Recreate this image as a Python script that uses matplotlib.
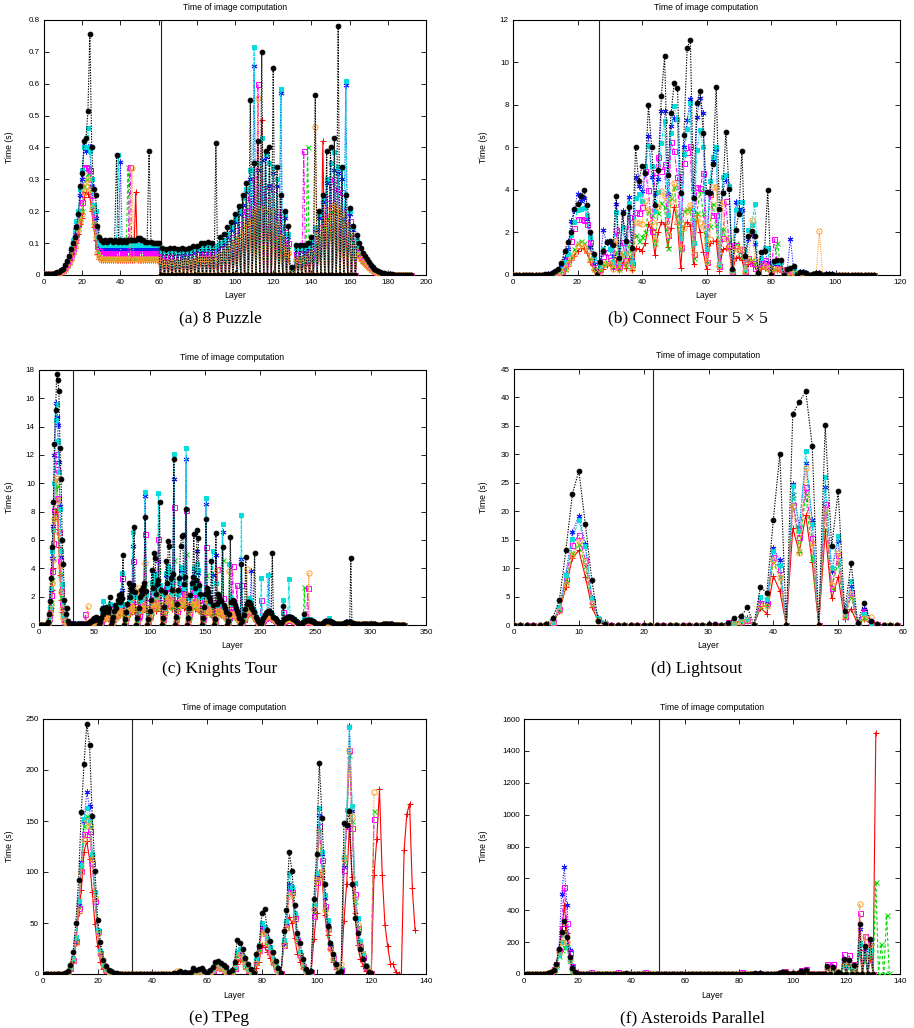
import numpy as np
import matplotlib.pyplot as plt
from matplotlib.ticker import FuncFormatter

# ---------------- (a) 8 Puzzle : layers 0..192 ----------------
puzzle_black = [
    .002, .002, .002, .003, .003, .004, .005, .008, .01, .015,
    .02, .03, .045, .06, .08, .1, .12, .15, .19, .28,
    .32, .42, .43, .515, .755, .40, .27, .25, .155, .12,
    .11, .105, .11, .105, .11, .11, .105, .11, .375, .105,
    .11, .105, .11, .105, .11, .11, .11, .11, .11, .115,
    .115, .11, .11, .105, .105, .39, .105, .1, .1, .1,
    .1,
    0, .085, 0, .08, 0, .085, 0, .085, 0, .08, 0, .085, 0, .08, 0, .085, 0, .09, 0, .09,
    0, .1, 0, .1, 0, .105, 0, .1, 0, .415, 0, .12, 0, .13, 0, .15, 0, .165, 0, .19,
    0, .215, 0, .25, 0, .29, 0, .55, 0, .35, 0, .42, 0, .70, 0, .39, 0, .40, 0, .65,
    0, .34, 0, .25, 0, .20, 0, .155, 0, .025, 0, .095, 0, .095, 0, .095, 0, .1, 0, .12,
    0, .565, 0, .2, 0, .25, 0, .39, 0, .40, 0, .43, 0, .78, 0, .34, 0, .25, 0, .21,
    0, .155, 0, .125,
    .1, .085, .07, .06, .05, .04, .032, .025, .02, .015, .012, .009, .007, .005,
    .004, .003, .002, .002, .001, .001, .001, 0, 0, 0, 0, 0, 0, 0,
]
puzzle_cyan = [
    .002, .002, .002, .003, .003, .004, .005, .008, .01, .015,
    .02, .03, .045, .06, .085, .11, .14, .17, .2, .27,
    .33, .40, .40, .46, .39, .3, .22, .2, .12, .1,
] + [.095] * 9 + [.375] + [.095] * 21 + [
    0, .075, 0, .075, 0, .075, 0, .075, 0, .075, 0, .075, 0, .075, 0, .075, 0, .08, 0, .085,
    0, .085, 0, .085, 0, .09, 0, .09, 0, .09, 0, .1, 0, .11, 0, .13, 0, .15, 0, .175,
    0, .2, 0, .24, 0, .27, 0, .33, 0, .715, 0, .35, 0, .43, 0, .38, 0, .35, 0, .34,
    0, .30, 0, .585, 0, .19, 0, .13, 0, .02, 0, .085, 0, .085, 0, .085, 0, .09, 0, .11,
    0, .15, 0, .19, 0, .24, 0, .3, 0, .35, 0, .385, 0, .34, 0, .335, 0, .61, 0, .2,
    0, .15, 0, .11,
    .09, .075, .065, .055, .045, .036, .028, .022, .017, .013, .01, .008, .006, .005,
    .004, .003, .002, .002, .001, .001, .001, 0, 0, 0, 0, 0, 0, 0,
]
puzzle_blue = [
    .002, .002, .002, .003, .003, .004, .005, .007, .01, .014,
    .02, .028, .04, .055, .075, .1, .13, .16, .19, .25,
    .3, .405, .39, .40, .40, .28, .2, .18, .11, .09,
] + [.08] * 10 + [.355] + [.08] * 20 + [
    0, .065, 0, .065, 0, .065, 0, .065, 0, .065, 0, .065, 0, .065, 0, .065, 0, .07, 0, .075,
    0, .075, 0, .075, 0, .08, 0, .08, 0, .08, 0, .09, 0, .1, 0, .12, 0, .14, 0, .165,
    0, .19, 0, .22, 0, .26, 0, .3, 0, .655, 0, .33, 0, .36, 0, .37, 0, .28, 0, .32,
    0, .28, 0, .57, 0, .18, 0, .12, 0, .02, 0, .075, 0, .075, 0, .075, 0, .08, 0, .1,
    0, .14, 0, .18, 0, .23, 0, .29, 0, .35, 0, .33, 0, .32, 0, .3, 0, .595, 0, .19,
    0, .14, 0, .1,
    .085, .07, .06, .05, .04, .033, .026, .02, .016, .012, .009, .007, .005, .004,
    .003, .003, .002, .001, .001, .001, 0, 0, 0, 0, 0, 0, 0, 0,
]
puzzle_magenta = [
    .002, .002, .002, .002, .003, .003, .004, .006, .008, .012,
    .017, .025, .035, .05, .065, .085, .11, .13, .16, .2,
    .23, .34, .34, .335, .33, .25, .19, .15, .09, .075,
] + [.068] * 15 + [.34] + [.068] * 15 + [
    0, .055, 0, .055, 0, .055, 0, .055, 0, .055, 0, .055, 0, .055, 0, .055, 0, .06, 0, .065,
    0, .065, 0, .065, 0, .065, 0, .065, 0, .07, 0, .08, 0, .09, 0, .1, 0, .12, 0, .14,
    0, .16, 0, .19, 0, .2, 0, .24, 0, .3, 0, .60, 0, .27, 0, .25, 0, .28, 0, .27,
    0, .2, 0, .19, 0, .15, 0, .1, 0, .015, 0, .065, 0, .065, 0, .39, 0, .07, 0, .08,
    0, .11, 0, .15, 0, .19, 0, .24, 0, .28, 0, .3, 0, .27, 0, .26, 0, .2, 0, .17,
    0, .12, 0, .09,
    .07, .06, .05, .04, .033, .027, .022, .017, .013, .01, .008, .006, .005, .004,
    .003, .002, .002, .001, .001, .001, 0, 0, 0, 0, 0, 0, 0, 0,
]
puzzle_green = [
    .002, .002, .002, .002, .003, .003, .004, .005, .007, .01,
    .015, .02, .03, .04, .055, .075, .1, .12, .15, .18,
    .2, .28, .3, .32, .28, .22, .17, .13, .08, .065,
] + [.058] * 14 + [.34] + [.058] * 16 + [
    0, .045, 0, .045, 0, .045, 0, .045, 0, .045, 0, .045, 0, .045, 0, .045, 0, .05, 0, .055,
    0, .055, 0, .055, 0, .055, 0, .055, 0, .06, 0, .065, 0, .075, 0, .085, 0, .1, 0, .115,
    0, .13, 0, .15, 0, .17, 0, .18, 0, .19, 0, .2, 0, .19, 0, .2, 0, .21, 0, .19,
    0, .15, 0, .12, 0, .1, 0, .08, 0, .012, 0, .055, 0, .055, 0, .055, 0, .40, 0, .065,
    0, .09, 0, .12, 0, .15, 0, .18, 0, .2, 0, .21, 0, .2, 0, .18, 0, .16, 0, .13,
    0, .1, 0, .08,
    .065, .055, .045, .037, .03, .024, .019, .015, .012, .009, .007, .005, .004, .003,
    .003, .002, .001, .001, .001, 0, 0, 0, 0, 0, 0, 0, 0, 0,
]
puzzle_orange = [
    .002, .002, .002, .002, .003, .003, .004, .005, .007, .01,
    .014, .02, .028, .038, .05, .07, .09, .11, .14, .17,
    .19, .26, .28, .30, .27, .21, .16, .12, .07, .055,
] + [.05] * 16 + [.335] + [.05] * 14 + [
    0, .04, 0, .04, 0, .04, 0, .04, 0, .04, 0, .04, 0, .04, 0, .04, 0, .045, 0, .05,
    0, .05, 0, .05, 0, .05, 0, .05, 0, .055, 0, .06, 0, .07, 0, .08, 0, .09, 0, .105,
    0, .12, 0, .14, 0, .16, 0, .17, 0, .2, 0, .555, 0, .21, 0, .2, 0, .235, 0, .2,
    0, .16, 0, .12, 0, .09, 0, .07, 0, .01, 0, .05, 0, .05, 0, .05, 0, .055, 0, .07,
    0, .465, 0, .12, 0, .15, 0, .18, 0, .21, 0, .22, 0, .21, 0, .19, 0, .16, 0, .13,
    0, .1, 0, .075,
    .06, .05, .042, .035, .028, .022, .018, .014, .011, .008, .006, .005, .004, .003,
    .002, .002, .001, .001, .001, 0, 0, 0, 0, 0, 0, 0, 0, 0,
]
puzzle_red = [
    .002, .002, .002, .002, .002, .003, .004, .005, .006, .009,
    .013, .018, .026, .035, .048, .065, .085, .1, .13, .16,
    .18, .245, .26, .255, .245, .2, .15, .11, .065, .05,
] + [.047] * 18 + [.26] + [.047] * 12 + [
    0, .035, 0, .035, 0, .035, 0, .035, 0, .035, 0, .035, 0, .035, 0, .035, 0, .04, 0, .045,
    0, .045, 0, .045, 0, .045, 0, .045, 0, .05, 0, .055, 0, .065, 0, .075, 0, .085, 0, .1,
    0, .115, 0, .13, 0, .15, 0, .17, 0, .18, 0, .2, 0, .485, 0, .2, 0, .19, 0, .18,
    0, .15, 0, .11, 0, .085, 0, .065, 0, .01, 0, .045, 0, .045, 0, .045, 0, .05, 0, .065,
    0, .09, 0, .12, 0, .42, 0, .17, 0, .19, 0, .2, 0, .19, 0, .17, 0, .15, 0, .12,
    0, .09, 0, .07,
    .055, .045, .038, .031, .025, .02, .016, .013, .01, .008, .006, .005, .004, .003,
    .002, .002, .001, .001, 0, 0, 0, 0, 0, 0, 0, 0, 0, 0,
]

# ---------------- (b) Connect Four 5x5 : layers 0..112 ----------------
connect_black = [0] * 9 + [
    .02, .04, .07, .1, .2, .3, .55,
    1.15, 1.55, 2.0, 3.1, 3.35, 3.7, 4.0, 3.3, 2.0, 1.0,
    0, .6, 1.15, 1.55, 1.6, 1.4, 3.7, .8, 2.9, 1.6,
    3.2, 1.25, 6.0, 4.4, 5.15, 4.8, 8.0, 6.0, 3.3, 4.95,
    8.4, 10.3, 4.7, 7.6, 9.05, 8.8, 3.85, 6.6, 10.7, 11.05,
    3.6, 8.1, 8.65, 6.7, 3.9, 3.85, 5.2, 8.85, 3.1, 3.85,
    6.75, 4.05, .3, 2.1, 2.85, 5.85, .9, 1.85, 2.05, 1.85,
    .1, 1.1, 1.15, 4.0, 0, .65, .7, .7, 0, .3,
    .35, .4, 0, .15, .15, .1, 0, .05, .1, .1,
    0, .05, .05, .05, 0, .02, .02, .02, 0, .01, .01, .01, 0, 0, 0, 0, 0,
]
connect_blue = [0] * 9 + [
    0, .02, .04, .08, .15, .25, .4,
    .8, 1.2, 2.55, 3.05, 3.8, 3.5, 3.6, 2.65, 1.3, .5,
    0, .6, 2.1, 1.55, 1.5, .9, 3.35, .7, 3.0, 1.1,
    3.65, .7, 4.6, 4.2, 3.95, 4.8, 6.55, 4.6, 3.8, 4.5,
    7.7, 7.7, 3.8, 7.0, 7.4, 7.3, 1.8, 6.0, 7.3, 8.3,
    1.5, 7.45, 8.35, 7.6, 1.2, 3.9, 5.35, 5.95, .5, 3.9,
    4.45, 4.2, .2, 3.45, 3.1, 3.05, .3, 1.7, 1.9, 1.45,
    .1, .5, 1.2, .6, 0, .6, .5, .6, 0, .2,
    1.7, .3, 0, .15, .15, .1, 0, .05, .1, .1,
    0, .05, .05, .05, 0, .02, .02, .02, 0, .01, .01, .01, 0, 0, 0, 0, 0,
]
connect_cyan = [0] * 9 + [
    0, .02, .04, .07, .12, .2, .3,
    .6, 1.0, 1.9, 2.5, 3.05, 3.1, 3.15, 2.8, 1.8, .8,
    0, .4, 1.2, 1.55, 1.2, .6, 2.95, .6, 2.25, 1.05,
    3.4, .6, 3.6, 3.8, 3.5, 5.15, 6.05, 5.15, 3.0, 3.9,
    6.2, 7.25, 2.8, 6.7, 7.95, 7.35, 1.75, 5.7, 6.85, 8.1,
    1.5, 5.9, 6.8, 6.0, 1.2, 4.4, 5.55, 6.0, .5, 4.6,
    4.7, 4.2, .2, 3.05, 3.45, 3.45, .3, 2.1, 2.35, 3.35,
    .1, .8, 1.25, 1.25, 0, .6, .6, .6, 0, .3,
    .3, .2, 0, .15, .15, .1, 0, .05, .1, .1,
    0, .05, .05, .05, 0, .02, .02, .02, 0, .01, .01, .01, 0, 0, 0, 0, 0,
]
connect_magenta = [0] * 9 + [
    0, 0, .02, .04, .08, .12, .2,
    .5, .8, 1.6, 2.2, 2.65, 2.65, 2.6, 2.4, 1.55, .6,
    0, .3, .9, 1.1, .7, .4, 2.1, .4, 1.55, .7,
    2.75, .5, 2.95, 2.9, 3.2, 4.9, 4.0, 2.05, 4.85, 5.55,
    4.9, 5.2, 1.9, 6.25, 5.85, 4.6, 1.3, 5.25, 5.8, 6.05,
    1.0, 4.15, 4.1, 4.8, .6, 3.8, 2.8, 2.8, .4, 1.75,
    3.5, 1.4, .2, 1.4, 1.2, 1.2, .2, .8, .55, .35,
    .1, .55, .7, .4, 0, 1.7, .35, .3, 0, .2,
    .2, .1, 0, .1, .1, .05, 0, .05, .05, .05,
    0, .02, .02, .02, 0, .01, .01, .01, 0, 0, 0, 0, 0, 0, 0, 0, 0,
]
connect_orange = [0] * 9 + [
    0, 0, .02, .03, .06, .1, .15,
    .3, .5, .8, 1.0, 1.35, 1.45, 1.3, 1.15, .7, .3,
    0, .2, .5, .6, .5, .3, 1.6, .3, 1.05, .5,
    1.1, .3, 2.5, 2.45, 2.4, 3.5, 3.05, 2.5, 1.65, 3.2,
    3.95, 3.7, 1.9, 3.5, 4.35, 2.5, 1.3, 2.2, 3.0, 3.3,
    1.0, 2.75, 2.45, 2.3, .6, 1.7, 4.15, 4.15, .4, 3.45,
    1.7, 1.25, .2, 1.25, 1.2, 1.2, .2, .7, 2.6, .7,
    .1, .4, .4, .35, 0, .3, .3, .3, 0, .15,
    .15, .1, 0, .1, .1, .05, 0, .05, .05, 2.05,
] + [0] * 17
connect_green = [0] * 9 + [
    0, 0, .02, .03, .06, .12, .18,
    .3, .6, .9, 1.2, 1.5, 1.6, 1.5, 1.3, .8, .3,
    0, .2, .5, .6, .6, .4, 1.1, .3, 1.0, .4,
    1.6, .4, 1.9, 1.6, 1.8, 2.0, 3.0, 2.8, 1.5, 2.9,
    3.4, 3.2, 1.25, 3.6, 4.15, 2.8, 1.2, 3.0, 3.1, 3.1,
    .8, 2.9, 4.0, 2.9, .6, 2.3, 3.35, 2.4, .4, 2.15,
    1.8, 1.6, .2, 1.5, 1.1, 1.0, .2, .75, .7, .6,
    .1, .4, .5, .35, 0, .3, 1.5, .3, 0, .15,
    .15, .1, 0, .1, .1, .05, 0, .05, .05, .05,
] + [0] * 17
connect_red = [0] * 9 + [
    0, 0, .01, .02, .05, .08, .12,
    .2, .4, .7, .9, 1.15, 1.25, 1.2, 1.05, .6, .25,
    0, .2, .3, .45, .5, .35, .7, .25, .6, .35,
    .8, .25, 1.25, 1.2, 1.15, 1.5, 2.4, 2.1, .95, 2.0,
    2.5, 2.4, 1.3, 2.2, 3.2, 2.4, .35, 2.3, 2.5, 2.3,
    .5, 2.8, 2.0, 1.1, .3, 1.5, 1.6, 1.6, .2, 1.2,
    1.25, 1.2, .1, .8, .85, .7, .1, .5, .55, .4,
    .05, .3, .35, .3, 0, .2, .25, .2, 0, .1,
    .1, .1, 0, .05, .05, .05, 0, .02, .02, .02,
] + [0] * 17

# ---------------- (c) Knights Tour : layers 0..330 ----------------
knights_black = [0] * 7 + [
    .05, .2, .8, 1.7, 3.35, 5.5, 8.7, 12.8, 15.2, 17.7, 17.3, 16.5, 12.5, 10.3, 6.0, 4.3, 1.8, .8, 1.2, .3, .1,
] + [.05] * 13 + [
    .05, .08, .1, .15, .15, .2, .3, .25, .4, .5, .35, .6, .5, 0,
    .2, .5, 1.1, .8, 1.2, 1.0, 1.3, .9, 1.2, 2.0, 0,
    .3, .6, 1.0, 1.4, 1.2, 1.8, 2.1, 1.6, 2.2, 1.9, 4.95, 0,
    .4, .9, 1.5, 2.95, 2.0, 2.6, 2.4, 2.8, 6.95, 2.3, 0,
    .5, 1.2, 2.0, 2.5, 2.2, 2.7, 3.0, 7.65, 2.4, 0,
    .4, 1.0, 1.8, 3.9, 2.6, 5.1, 4.75, 2.2, 2.9, 3.2, 8.65, 2.5, 0,
    .5, 1.3, 2.3, 4.55, 3.0, 5.9, 5.55, 3.3, 2.5, 3.6, 11.7, 0,
    .6, 1.5, 2.5, 3.3, 5.6, 6.3, 6.35, 2.9, 3.4, 8.2, 0,
    .5, 1.2, 2.1, 3.0, 3.4, 6.4, 2.6, 3.2, 6.7, 6.15, 2.8, 2.2, 0,
    .5, 1.3, 2.2, 7.5, 2.6, 2.3, 2.0, 1.7, 4.5, 1.4, 0,
    .4, 6.5, 1.5, 2.2, 2.0, 1.8, 1.7, 5.5, 1.4, 1.2, .9, 0,
    .3, .8, 6.2, 1.6, 1.8, 1.6, 1.4, 1.2, 1.0, .8, .5, 0,
    4.3, .3, .7, 1.1, 4.8, 1.5, 1.65, 1.6, 1.5, 1.3, 1.1, .9, 5.1, .6, .4, .3, .2, 0,
    .1, .3, .5, .7, .85, .95, 1.0, 1.0, .95, .85, 5.1, .6, .5, .4, .3, .2, .1, 0,
    .1, .2, 1.35, .4, .5, .55, .6, .6, .6, .55, .5, .45, .4, .3, .2, .15, .1, 0,
    .05, .1, .2, .8, .3, .35, .35, .35, .35, .3, .3, .25, .2, .15, .1, .1, .05, 0,
    .05, .1, .15, .2, .25, .25, .25, .25, .25, .2, .2, .15, .15, .1, .1, .05, .05, 0,
    .05, .1, .1, .15, .15, .2, .2, .2, .2, 4.7, .15, .15, .1, .1, .05, .05, .05, 0,
    .03, .05, .08, .1, .1, .1, .1, .1, .1, .08, .08, .06, .05, .04, .03, .02, .02, 0,
    .02, .03, .04, .05, .05, .05, .05, .05, .05, .04, .04, .03, .03, .02, .02, .01, .01, 0,
    .01, .01, 0, 0,
]
knights_cyan = [0] * 7 + [
    .05, .15, .6, 1.3, 2.6, 5.2, 6.7, 10.0, 14.5, 15.6, 13.0, 10.8, 8.2, 5.2, 2.9, 1.5, .7, .3, .2, .1, .05,
] + [.05] * 13 + [
    .05, .07, .1, .12, .15, .2, .25, .2, .35, .4, .3, .5, .4, 0,
    .2, .4, .9, 1.7, 1.0, .8, 1.1, .8, 1.0, 1.5, 0,
    .3, .5, .9, 1.2, 1.0, 1.5, 1.8, 1.4, 1.9, 3.7, 1.5, 0,
    .4, .8, 1.3, 2.0, 1.7, 2.2, 2.0, 6.6, 2.3, 2.0, 0,
    .4, 1.0, 1.7, 2.1, 1.9, 2.3, 2.6, 9.4, 2.1, 0,
    .4, .9, 1.6, 3.0, 2.3, 3.5, 3.2, 2.0, 2.5, 9.35, 2.8, 2.2, 0,
    .5, 1.2, 2.0, 3.7, 2.7, 4.2, 3.9, 2.9, 2.2, 3.2, 12.1, 0,
    .6, 1.4, 2.2, 3.0, 4.1, 4.0, 3.6, 2.6, 3.0, 12.5, 0,
    .5, 1.1, 1.9, 2.7, 3.0, 4.0, 2.3, 2.8, 4.3, 3.9, 2.5, 2.0, 0,
    .5, 1.2, 2.0, 9.0, 2.3, 2.1, 1.8, 1.5, 1.3, 5.2, 0,
    .4, 3.0, 1.4, 2.0, 1.8, 1.7, 1.5, 7.15, 1.3, 1.1, .8, 0,
    .3, 4.3, 2.0, 1.5, 1.6, 1.5, 1.3, 1.1, .9, .7, .5, 0,
    7.75, .3, .6, 1.0, 1.2, 1.4, 1.8, 1.9, 1.8, 1.5, 1.2, 1.0, .8, .6, .4, .3, .2, 0,
    3.3, .3, .5, .7, .85, .95, 3.55, 1.0, .95, .85, .7, .6, .5, .4, .3, .2, .1, 0,
    .1, .2, 1.8, .4, .5, .55, .6, 3.25, .6, .55, .5, .45, .4, .3, .2, .15, .1, 0,
    .05, .1, .2, .4, .35, .4, .4, .4, .4, .35, .3, .25, .2, .15, .1, .1, .05, 0,
    .05, .1, .15, .2, .25, .3, .3, .5, .3, .25, .2, .15, .15, .1, .1, .05, .05, 0,
    .05, .1, .1, .15, .15, .2, .2, .2, .2, .2, .15, .15, .1, .1, .05, .05, .05, 0,
    .03, .05, .08, .1, .1, .1, .1, .1, .1, .08, .08, .06, .05, .04, .03, .02, .02, 0,
    .02, .03, .04, .05, .05, .05, .05, .05, .05, .04, .04, .03, .03, .02, .02, .01, .01, 0,
    .01, .01, 0, 0,
]
knights_blue = [0] * 7 + [
    .05, .15, .6, 1.2, 2.5, 4.7, 7.0, 12.0, 15.7, 14.7, 14.1, 11.5, 8.4, 4.8, 2.8, 1.2, .5, .3, .2, .1, .05,
] + [.05] * 13 + [
    .05, .07, .1, .12, .15, .2, .25, .2, .35, .4, .3, .5, .4, 0,
    .2, .4, .9, 1.3, 1.0, .8, 1.1, .8, 1.0, 1.4, 0,
    .3, .5, .9, 1.2, 1.0, 1.5, 1.8, 1.4, 1.9, 2.5, 1.5, 0,
    .4, .8, 1.3, 2.0, 1.7, 2.2, 2.0, 5.6, 2.2, 2.0, 0,
    .4, 1.0, 1.7, 2.1, 1.9, 2.3, 2.6, 9.1, 2.1, 0,
    .4, .9, 1.6, 3.0, 2.3, 3.7, 3.2, 2.0, 2.5, 4.5, 2.7, 2.1, 0,
    .5, 1.2, 2.0, 3.5, 2.7, 4.0, 3.8, 2.8, 2.2, 3.1, 10.3, 0,
    .6, 1.4, 2.2, 3.0, 3.9, 3.8, 3.4, 2.5, 2.9, 11.7, 0,
    .5, 1.1, 1.9, 2.7, 3.0, 3.8, 2.3, 2.8, 5.2, 3.7, 2.4, 2.0, 0,
    .5, 1.2, 2.0, 8.55, 2.2, 2.0, 1.7, 1.4, 1.2, 3.5, 0,
    .4, 4.95, 1.4, 1.9, 1.7, 1.6, 1.4, 6.6, 1.2, 1.0, .8, 0,
    .3, 1.0, 1.8, 1.5, 1.5, 1.4, 1.2, 1.0, .9, .7, .5, 0,
    4.65, .3, .6, .9, 1.1, 1.3, 1.6, 1.7, 1.6, 3.8, 1.1, .9, .7, .5, .4, .3, .2, 0,
    .1, .3, .5, .65, .8, .9, .95, 3.55, .9, .8, .65, .55, .45, .35, .25, .2, .1, 0,
    .1, .2, .4, .4, .45, .5, .55, .55, .55, .5, .45, .4, .35, .3, .2, .15, .1, 0,
    .05, .1, .2, .3, .3, .35, .35, .35, .35, .3, .3, .25, .2, .15, .1, .1, .05, 0,
    .05, .1, .15, .2, .2, .25, .25, .25, .25, .2, .2, .15, .15, .1, .1, .05, .05, 0,
    .05, .1, .1, .15, .15, .2, .2, .2, .2, .2, .15, .15, .1, .1, .05, .05, .05, 0,
    .03, .05, .08, .1, .1, .1, .1, .1, .1, .08, .08, .06, .05, .04, .03, .02, .02, 0,
    .02, .03, .04, .05, .05, .05, .05, .05, .05, .04, .04, .03, .03, .02, .02, .01, .01, 0,
    .01, .01, 0, 0,
]
knights_magenta = [0] * 7 + [
    .04, .12, .5, 1.1, 2.1, 3.8, 5.8, 8.1, 12.1, 11.0, 9.0, 6.6, 4.5, 2.4, 1.5, .8, .3, .2, .1, .05, .05,
] + [.03] * 13 + [
    .05, .75, .08, .1, .12, .15, .2, .15, .25, .3, .25, .4, .3, 0,
    .15, .3, .6, .9, .8, .6, .8, .6, .8, 1.1, 0,
    .2, .4, .7, .9, .8, 1.1, 1.3, 1.0, 1.4, 3.3, 1.1, 0,
    .3, .6, 1.0, 1.5, 1.3, 1.6, 1.5, 4.55, 1.7, 1.5, 0,
    .3, .7, 1.3, 1.6, 1.4, 1.7, 1.9, 6.45, 1.6, 0,
    .3, .7, 1.2, 2.2, 1.7, 2.5, 2.3, 1.5, 1.9, 6.1, 2.0, 1.6, 0,
    .4, .9, 1.5, 2.6, 2.0, 2.9, 2.7, 2.1, 1.7, 2.3, 8.3, 0,
    .4, 1.0, 1.6, 2.2, 2.8, 2.7, 2.4, 1.9, 2.2, 8.15, 0,
    .4, .8, 1.4, 2.0, 2.2, 2.6, 1.7, 2.0, 3.0, 2.6, 1.8, 1.5, 0,
    .4, .9, 1.5, 5.5, 1.7, 1.5, 1.3, 1.1, 1.0, 2.0, 0,
    .3, 1.2, 3.95, 1.4, 1.3, 1.2, 1.1, 1.9, .9, .8, .6, 0,
    .2, .6, 1.0, 1.1, 4.2, 1.0, .9, .8, 2.8, .5, .35, 0,
    2.85, .2, .4, .7, .85, 1.0, 1.2, 1.3, 1.2, 1.0, .85, .7, .5, .4, .3, .2, .15, 0,
    1.8, .2, .35, .5, .6, .7, .7, .7, .65, .6, .5, .4, .35, .25, .2, .15, .1, 0,
    .1, .15, .9, .3, .35, .4, .4, .4, .4, .35, .35, .3, .25, .2, .15, .1, .05, 0,
    .05, .1, .15, .2, .2, .25, 2.6, .25, .25, .2, .2, .15, .15, .1, .1, .05, .05, 0,
    .05, .05, .1, .15, .15, .2, .2, .2, .2, .15, .15, .1, .1, .1, .05, .05, .05, 0,
    .05, .05, .1, .1, .1, .15, .15, .15, .15, .15, .1, .1, .1, .05, .05, .05, .05, 0,
    .02, .04, .06, .08, .08, .08, .08, .08, .08, .06, .06, .05, .04, .03, .02, .02, .01, 0,
    .01, .02, .03, .04, .04, .04, .04, .04, .04, .03, .03, .02, .02, .02, .01, .01, .01, 0,
    .01, .01, 0, 0,
]
knights_orange = [0] * 7 + [
    .03, .1, .4, .9, 1.5, 3.0, 4.6, 7.5, 10.4, 10.2, 8.8, 6.5, 4.2, 2.3, 1.2, .6, .3, .1, .05, .05, .05,
] + [.03] * 13 + [
    .04, .05, .06, 1.35, .08, .1, .15, .12, .2, .25, .2, .3, .25, 0,
    .1, .25, .5, .7, .6, .5, .6, .5, .6, .8, 0,
    .15, .3, .5, .7, .6, .8, 1.0, .8, 1.0, 1.0, .9, 0,
    .2, .5, .8, 1.1, 1.0, 1.2, 1.1, 1.6, 1.2, 1.1, 0,
    .2, 2.6, 1.0, 1.2, 1.1, 1.3, 1.4, 4.4, 1.2, 0,
    .2, .5, .9, 1.5, 1.2, 1.7, 1.6, 1.2, 1.4, 2.2, 1.5, 1.2, 0,
    .3, .7, 1.1, 1.8, 1.4, 2.0, 1.9, 1.5, 1.3, 1.6, 2.5, 0,
    .3, .7, 1.2, 1.5, 1.8, 1.8, 1.6, 1.4, 1.5, 2.2, 0,
    .3, .6, 1.0, 1.4, 1.5, 1.7, 1.3, 1.4, 1.6, 1.5, 1.2, 1.0, 0,
    .3, .7, 1.1, 1.8, 1.2, 1.1, 1.0, .9, .8, 1.0, 0,
    .2, .5, 3.9, 1.0, 1.0, .9, .8, .9, .7, .6, .5, 0,
    .2, 3.8, .7, .8, .8, .8, .7, .6, .5, .4, .3, 0,
    .3, .2, .4, .6, .8, 3.95, 1.1, 1.2, 1.1, 1.0, .8, .6, .5, .4, .3, .2, .1, 0,
    .1, .2, .35, .5, .6, .7, .75, .75, .7, .6, .5, .4, .35, .25, .2, .15, .1, 0,
    .05, .15, .25, .3, .35, .4, .45, .45, .45, .4, .35, .3, .25, .2, .15, .1, .05, 0,
    .05, .1, .15, .2, .25, .25, .25, 3.7, .25, .2, .2, .15, .15, .1, .1, .05, .05, 0,
    .05, .05, .1, .15, .15, .2, .2, .2, .2, .15, .15, .1, .1, .1, .05, .05, .05, 0,
    .05, .05, .1, .1, .1, .15, .15, .15, .15, .15, .1, .1, .1, .05, .05, .05, .05, 0,
    .02, .04, .06, .08, .08, .08, .08, .08, .08, .06, .06, .05, .04, .03, .02, .02, .01, 0,
    .01, .02, .03, .04, .04, .04, .04, .04, .04, .03, .03, .02, .02, .02, .01, .01, .01, 0,
    .01, .01, 0, 0,
]
knights_green = [0] * 7 + [
    .03, .1, .4, .9, 1.6, 3.2, 4.7, 7.8, 9.0, 9.8, 8.3, 6.1, 3.6, 2.0, 1.0, .5, .2, .1, .05, .05, .05,
] + [.03] * 13 + [
    .04, .05, .06, .07, .08, .1, .15, .12, .2, .25, .2, .3, .25, 0,
    .1, .25, .5, .7, .6, .5, .6, .5, .6, .8, 0,
    .15, .3, .5, .7, .6, .8, 1.0, .8, 1.0, 1.8, .9, 0,
    .2, .5, .8, 1.1, 1.0, 1.2, 1.1, 2.4, 1.2, 1.1, 0,
    .2, .5, 1.0, 1.2, 1.1, 1.3, 1.4, 3.0, 1.2, 0,
    .2, .5, .9, 1.5, 1.2, 1.7, 1.6, 1.2, 1.4, 3.9, 1.5, 1.2, 0,
    .3, .7, 1.1, 1.8, 1.4, 2.0, 1.9, 1.5, 1.3, 1.6, 4.6, 0,
    .3, .7, 1.2, 1.5, 1.8, 1.8, 1.6, 1.4, 1.5, 5.0, 0,
    .3, .6, 1.0, 1.4, 1.5, 1.7, 1.3, 1.4, 2.2, 1.5, 1.2, 1.0, 0,
    .3, .7, 1.1, 3.5, 1.2, 1.1, 1.0, .9, .8, 1.0, 0,
    .2, 2.2, 1.1, 1.0, 1.0, .9, .8, 4.6, .7, .6, .5, 0,
    .2, .5, .7, .8, .8, .8, .7, .6, .5, .4, .3, 0,
    .3, .2, .4, .6, .8, 1.0, 1.1, 1.2, 1.1, 1.0, .8, .6, .5, .4, .3, .2, .1, 0,
    .1, .2, .35, .5, .6, .7, .75, .75, .7, .6, .5, .4, .35, .25, .2, .15, .1, 0,
    .05, .15, .25, .3, .35, .4, .45, .45, .45, .4, .35, .3, .25, .2, .15, .1, .05, 0,
    .05, .1, .15, 2.7, .25, .25, .25, .25, .25, .2, .2, .15, .15, .1, .1, .05, .05, 0,
    .05, .05, .1, .15, .15, .2, .2, .2, .2, .15, .15, .1, .1, .1, .05, .05, .05, 0,
    .05, .05, .1, .1, .1, .15, .15, .15, .15, .15, .1, .1, .1, .05, .05, .05, .05, 0,
    .02, .04, .06, .08, .08, .08, .08, .08, .08, .06, .06, .05, .04, .03, .02, .02, .01, 0,
    .01, .02, .03, .04, .04, .04, .04, .04, .04, .03, .03, .02, .02, .02, .01, .01, .01, 0,
    .01, .01, 0, 0,
]
knights_red = [0] * 7 + [
    .02, .08, .3, .7, 1.2, 2.5, 4.0, 6.8, 8.0, 8.2, 7.5, 5.5, 3.5, 1.8, .9, .4, .2, .1, .05, .05, .05,
] + [.02] * 13 + [
    .03, .04, .05, .06, .07, .08, .1, .1, .15, .2, .15, .25, .2, 0,
    .1, .2, .4, .6, .5, .4, .5, .4, .5, .7, 0,
    .12, .25, .4, .6, .5, .7, .8, .7, .9, .9, .8, 0,
    .15, .4, .7, .9, .8, 1.0, .9, 1.3, 1.0, .9, 0,
    .15, .4, .8, 1.0, .9, 1.1, 1.2, 1.8, 1.0, 0,
    .15, .4, .8, 1.3, 1.0, 1.5, 1.4, 1.0, 1.2, 2.0, 1.3, 1.0, 0,
    .25, .6, 1.0, 1.6, 1.2, 1.8, 1.7, 1.3, 1.1, 1.4, 2.4, 0,
    .25, .6, 1.0, 1.3, 1.6, 1.6, 1.4, 1.2, 1.3, 2.2, 0,
    .25, .5, .9, 1.2, 1.3, 1.5, 1.1, 1.2, 1.4, 1.3, 1.0, .9, 0,
    .25, .6, 1.0, 1.6, 1.0, 1.0, .9, .8, .7, .9, 0,
    .2, .45, .9, .9, .9, .8, .7, .8, .6, .5, .45, 0,
    .15, .4, .6, .7, .7, .7, .6, .5, .45, .35, .25, 0,
    .25, .15, .35, .5, .7, .85, 1.0, 1.05, 1.0, .9, .7, .55, .45, .35, .25, .15, .1, 0,
    .1, .2, .3, .45, .55, .6, .65, .65, .6, .55, .45, .35, .3, .2, .15, .1, .1, 0,
    .05, .1, .2, .25, .3, .35, .4, .4, .4, .35, .3, .25, .2, .15, .1, .1, .05, 0,
    .05, .1, .1, .15, .2, .2, .2, .2, .2, .2, .15, .15, .1, .1, .05, .05, .05, 0,
    .05, .05, .1, .1, .15, .15, .15, .15, .15, .15, .1, .1, .1, .05, .05, .05, .05, 0,
    .03, .05, .05, .1, .1, .1, .1, .1, .1, .1, .1, .05, .05, .05, .05, .03, .03, 0,
    .02, .03, .05, .06, .06, .06, .06, .06, .06, .05, .05, .04, .03, .02, .02, .01, .01, 0,
    .01, .02, .02, .03, .03, .03, .03, .03, .03, .02, .02, .02, .01, .01, .01, .01, .01, 0,
    .01, .01, 0, 0,
]

# ---------------- (d) Lightsout : layers 0..59 ----------------
lights_black = [0] * 5 + [.2, 1.3, 4.4, 13.1, 23, 27.1, 17.8, 7.9, .7, .1] + [0] * 15 + [
    .1, .1, 0, .4, 1.2, 1.5, 3.1, 0, 6.6, 5.7, 18.5, 30.1, 0, 37.1, 39.2,
    41.1, 31.5, 0, 35.1, 13.8, 23.5, 2.4, 10.9, .4, 3.9, .7, .2, 0, 0, 0]
lights_blue = [0] * 5 + [.1, .6, 3, 9, 16.3, 19.2, 14.2, 4.8, 1.2, .6] + [0] * 15 + [
    0, 0, 0, .4, .5, .8, 1.2, 0, 4.1, 4, 13.5, 11.5, 0, 24.8, 17.3,
    28.5, 18.4, 0, 24.2, 9.5, 14.8, 2, 6.9, .2, 2.8, .3, .1, 0, 0, 0]
lights_cyan = [0] * 5 + [.1, .6, 3.1, 8.8, 15.2, 18.4, 13.8, 4.8, 1.3, .3] + [0] * 15 + [
    0, 0, 0, .3, .4, .9, 1, 0, 4.9, 4.5, 13, 10.5, 0, 24.5, 16.5,
    30.6, 17.8, 0, 26, 10, 15.6, 2, 7.7, .2, 2, .3, .1, 0, 0, 0]
lights_magenta = [0] * 5 + [.1, .5, 2.8, 8, 14.1, 15.8, 11.5, 4.2, 1, .2] + [0] * 15 + [
    0, 0, 0, .6, .3, .7, .9, 0, 3.8, 3.8, 12, 9.8, 0, 21.1, 15.5,
    24.2, 15.3, 0, 21.2, 6.5, 12.3, 1.6, 5.8, .2, 2.5, .5, .1, 0, 0, 0]
lights_orange = [0] * 5 + [.1, .4, 2.4, 7.2, 12.3, 14.8, 11.2, 3.8, .9, .1] + [0] * 15 + [
    0, 0, 0, .2, .3, .6, .8, 0, 3.5, 3.3, 11.5, 8.5, 0, 21, 12.6,
    27.6, 14.5, 0, 20.3, 7, 12.6, 1.5, 5.5, .2, 1.2, 1.4, .1, 0, 0, 0]
lights_green = [0] * 5 + [.1, .4, 2.6, 7.5, 12.6, 14.2, 10.3, 3.5, .8, .1] + [0] * 15 + [
    0, 0, 0, .2, .3, .6, .8, 0, 3.2, 3.5, 11, 8.5, 0, 23, 13,
    23, 12, 0, 19.8, 6.5, 11, 1.4, 5, .2, 1.3, .3, .1, 0, 0, 0]
lights_red = [0] * 5 + [.1, .3, 2.5, 6.6, 11.8, 13.1, 8.5, 3.2, .7, .1] + [0] * 15 + [
    0, 0, 0, .2, .3, .7, .7, 0, 3, 2, 8.6, 6, 0, 17, 12.8,
    19.3, 11, 0, 16.5, 4.7, 8.4, 1, 2.9, .1, 1.1, .2, .1, 0, 0, 0]

# ---------------- (e) TPeg : layers 0..136 ----------------
tpeg_black = [0] * 8 + [1, 3, 9, 22, 50, 92, 159, 206, 245, 225, 155, 101, 53, 31, 14, 8, 4, 3, 1, .5] + [0] * 20 + [
    .5, 1, 3, 1, 2, 1, 2, 6, 4, 5, 6, 3,
    1, 4, 7, 12, 13, 11, 9, 7, 2, 4,
    12, 33, 30, 25, 16, 10, 5, 1, 20, 27,
    60, 64, 43, 32, 22, 13, 6, 1, 42, 63,
    120, 101, 68, 40, 30, 15, 5, 1, 3, 74,
    118, 207, 153, 88, 47, 30, 20, 10, 1, 3,
    148, 146, 160, 88, 55, 40, 25, 15, 8, 2, .5]
tpeg_cyan = [0] * 8 + [.5, 2, 7, 16, 36, 72, 107, 152, 163, 150, 118, 80, 43, 23, 10, 5, 2, 1, .5, .3] + [0] * 20 + [
    .3, .5, 1, .5, 1, .5, 1, 3, 2, 3, 4, 2,
    .5, 2, 5, 10, 10, 8, 5, 3, 1, 3,
    8, 22, 25, 18, 10, 5, 3, 1, 15, 28,
    50, 46, 35, 26, 15, 8, 3, 1, 33, 52,
    99, 85, 60, 37, 22, 10, 3, 1, 2, 68,
    99, 163, 120, 77, 53, 30, 19, 10, 3, 5,
    115, 161, 242, 165, 89, 55, 32, 21, 9, 2, 1]
tpeg_blue = [0] * 8 + [.5, 2, 7, 15, 33, 68, 110, 150, 178, 165, 117, 80, 42, 22, 10, 5, 2, 1, .5, .3] + [0] * 20 + [
    .3, .5, 1, .5, 1, .5, 1, 3, 2, 3, 4, 2,
    .5, 2, 5, 9, 9, 7, 5, 3, 1, 3,
    7, 20, 23, 17, 9, 5, 3, 1, 14, 26,
    48, 45, 34, 25, 14, 7, 3, 1, 30, 50,
    88, 84, 58, 35, 20, 9, 3, 1, 2, 64,
    97, 156, 118, 75, 50, 28, 18, 9, 3, 5,
    105, 145, 243, 160, 88, 54, 30, 20, 8, 2, 1]
tpeg_magenta = [0] * 8 + [.5, 2, 6, 14, 32, 65, 101, 137, 137, 140, 109, 72, 42, 21, 9, 4, 2, 1, .5, .3] + [0] * 20 + [
    .3, .5, 1, .5, 1, .5, 1, 2, 2, 2, 3, 2,
    .5, 2, 4, 7, 8, 6, 4, 2, 1, 2,
    6, 18, 21, 15, 8, 4, 2, 1, 12, 24,
    44, 40, 30, 22, 12, 6, 2, 1, 28, 46,
    85, 80, 55, 33, 19, 8, 2, 1, 2, 57,
    90, 145, 112, 67, 45, 26, 16, 8, 2, 4,
    102, 145, 220, 143, 78, 45, 26, 17, 7, 2, 1, 152]
tpeg_orange = [0] * 8 + [.5, 2, 6, 13, 30, 62, 100, 131, 150, 145, 113, 75, 40, 20, 9, 4, 2, 1, .5, .3] + [0] * 20 + [
    .5, 3, 1, .5, 1, .5, 1, 2, 2, 2, 3, 2,
    .5, 2, 4, 7, 7, 6, 4, 2, 1, 2,
    6, 17, 20, 14, 8, 4, 2, 1, 11, 23,
    40, 40, 30, 21, 12, 6, 2, 1, 28, 45,
    76, 78, 53, 31, 18, 8, 2, 1, 2, 64,
    92, 140, 100, 63, 43, 25, 15, 8, 2, 10,
    114, 147, 220, 155, 75, 48, 28, 20, 8, 3, 1, 178]
tpeg_green = [0] * 8 + [.5, 2, 6, 14, 32, 66, 105, 145, 155, 145, 115, 75, 41, 21, 9, 4, 2, 1, .5, .3] + [0] * 20 + [
    .3, .5, 1, .5, 1, .5, 1, 2, 2, 2, 3, 2,
    .5, 2, 4, 7, 8, 6, 4, 2, 1, 2,
    6, 18, 21, 15, 8, 4, 2, 1, 12, 24,
    44, 42, 31, 22, 12, 6, 2, 1, 29, 47,
    88, 82, 56, 34, 19, 8, 2, 1, 2, 62,
    92, 140, 105, 65, 44, 26, 16, 8, 2, 5,
    110, 145, 215, 150, 72, 46, 27, 18, 7, 2, 1, 160]
tpeg_red = [0] * 8 + [.5, 1.5, 5, 12, 30, 60, 82, 120, 130, 113, 80, 49, 27, 12, 5, 2, 1, .5, .3, .2] + [0] * 20 + [
    .2, .3, .5, .3, .5, .3, .5, 1, 1, 1, 1.5, 1,
    .3, 1, 3, 5, 8, 7, 5, 3, 1, 1,
    5, 10, 14, 13, 10, 6, 3, 1, 6, 12,
    28, 26, 22, 16, 10, 5, 2, 1, 30, 46,
    56, 50, 35, 20, 12, 6, 2, 0, 1, 34,
    60, 100, 95, 58, 38, 25, 12, 5, 1, 3,
    52, 88, 145, 95, 60, 28, 15, 8, 3, 1,
    1, 97, 132, 181, 97, 48, 27, 10, 10, 1.5,
    0, 0, 122, 157, 167, 84, 43]

# ---------------- (f) Asteroids Parallel : layers 0..136 ----------------
aster_black = [.5, .5, .5, .5, .5, .5, 1, 1, 2, 4,
               10, 25, 65, 160, 265, 335, 230, 105, 35, 10, 3, 2] + [1] * 16 + [5] + [1] * 47 + [
    8, 2, 5, 1,
    1, 2, 3, 2, 3, 5, 10, 15, 5, 3,
    8, 2, 5, 20, 0, 25, 0, 3, 0, 2,
    0, 3, 0, 50, 0, 45, 0, 15, 0, 95,
    0, 90, 0, 55, 0, 315, 0, 175, 0, 220, 0]
aster_magenta = [.5, .5, .5, .5, .5, .5, 1, 1, 2, 5,
                 15, 30, 60, 150, 290, 545, 320, 140, 50, 15, 5, 3, 2, 2, 2, 10] + [2] * 9 + [10] + [2] * 9 + [10] + [2] * 35 + [12] + [2] * 4 + [
    5, 5, 2, 2,
    2, 2, 2, 2, 3, 5, 12, 18, 5, 3,
    5, 3, 5, 25, 2, 30, 2, 5, 2, 3,
    2, 5, 2, 60, 2, 65, 2, 15, 2, 125,
    2, 120, 2, 60, 2, 380, 2, 240, 2, 200, 0]
aster_blue = [.5, .5, .5, .5, .5, .5, 1, 1, 2, 5,
              15, 30, 60, 155, 500, 672, 430, 150, 50, 15, 5, 3, 2] + [1] * 65 + [
    8, 1,
    1, 2, 3, 2, 3, 5, 10, 12, 5, 3,
    5, 2, 5, 18, 0, 22, 0, 3, 0, 2,
    0, 3, 0, 40, 0, 40, 0, 12, 0, 80,
    0, 80, 0, 45, 0, 285, 0, 150, 0, 200, 0]
aster_cyan = [.5, .5, .5, .5, .5, .5, 1, 1, 2, 4,
              10, 25, 50, 120, 200, 250, 170, 80, 20, 5, 2] + [1] * 69 + [
    1, 1, 2, 1, 2, 4, 8, 10, 4, 2,
    5, 2, 4, 15, 0, 18, 0, 2, 0, 2,
    0, 2, 0, 30, 0, 25, 0, 10, 0, 55,
    0, 50, 0, 35, 0, 190, 0, 120, 0, 150, 0]
aster_orange = [.5, .5, .5, .5, .5, .5, 1, 1, 2, 4,
                10, 25, 55, 140, 200, 260, 200, 90, 25, 8, 3, 2] + [1] * 68 + [
    1, 1, 2, 1, 2, 4, 8, 12, 4, 2,
    5, 2, 4, 15, 0, 20, 0, 2, 0, 2,
    0, 2, 0, 35, 0, 40, 0, 10, 0, 75,
    0, 70, 0, 40, 0, 440, 0, 230, 0, 180, 0]
aster_green = [.5, .5, .5, .5, .5, .5, 1, 1, 2, 3,
               8, 20, 50, 110, 150, 170, 170, 90, 20, 5, 2] + [1] * 69 + [
    1, 1, 2, 1, 2, 3, 6, 10, 3, 2,
    4, 2, 3, 12, 0, 15, 0, 2, 0, 2,
    0, 2, 0, 25, 0, 25, 0, 8, 0, 50,
    0, 45, 0, 30, 0, 200, 0, 110, 0, 130,
    0, 580, 0, 190, 0, 370, 8]
aster_red = [.5, .5, .5, .5, .5, .5, 1, 1, 2, 4,
             12, 28, 60, 150, 250, 430, 260, 110, 30, 8, 2] + [1] * 69 + [
    1, 1, 2, 1, 2, 4, 8, 10, 4, 2,
    4, 2, 3, 12, 0, 15, 0, 2, 0, 2,
    0, 2, 0, 30, 0, 30, 0, 10, 0, 60,
    0, 55, 0, 35, 0, 150, 0, 120, 0, 100,
    0, 1515]

# ---------------- layout ----------------
W, H = 914, 1028
SANS = 'Liberation Sans'
SERIF = 'Liberation Serif'

# gnuplot-like line types: colour, dash, marker, size, filled
line_types = [
    ('#ff0000', '-', '+', 4.2, True),
    ('#00dd00', (0, (3, 2)), 'x', 3.6, True),
    ('#1a1aff', (0, (1, 1.3)), (6, 2, 0), 4.2, True),
    ('#ff00ff', (0, (4, 1.5, 1, 1.5)), 's', 3.6, False),
    ('#00dddd', (0, (3, 1.2, 1, 1.2, 1, 1.2)), 's', 3.2, True),
    ('#ffa030', (0, (1, 1)), 'o', 3.8, False),
    ('#000000', (0, (1.2, 1.2)), 'o', 3.4, True),
]

panels = [
    dict(series=[puzzle_red, puzzle_green, puzzle_blue, puzzle_magenta, puzzle_cyan, puzzle_orange, puzzle_black],
         box=(44, 20, 426, 275), xmax=200, xstep=20, ymax=0.8, ystep=0.1, vline=61.3,
         title_y=7, ylab_x=10, cap=(220, 318, '(a) 8 Puzzle')),
    dict(series=[connect_red, connect_green, connect_blue, connect_magenta, connect_cyan, connect_orange, connect_black],
         box=(513, 20, 900, 275), xmax=120, xstep=20, ymax=12, ystep=2, vline=26.6,
         title_y=7, ylab_x=484, cap=(688, 318, '(b) Connect Four 5 × 5')),
    dict(series=[knights_red, knights_green, knights_blue, knights_magenta, knights_cyan, knights_orange, knights_black],
         box=(39, 370, 426, 625), xmax=350, xstep=50, ymax=18, ystep=2, vline=30.8,
         title_y=357, ylab_x=10, cap=(220, 669, '(c) Knights Tour')),
    dict(series=[lights_red, lights_green, lights_blue, lights_magenta, lights_cyan, lights_orange, lights_black],
         box=(514, 369, 903, 625), xmax=60, xstep=10, ymax=45, ystep=5, vline=21.5,
         title_y=356, ylab_x=484, cap=(697, 669, '(d) Lightsout')),
    dict(series=[tpeg_red, tpeg_green, tpeg_blue, tpeg_magenta, tpeg_cyan, tpeg_orange, tpeg_black],
         box=(43, 719, 426, 974), xmax=140, xstep=20, ymax=250, ystep=50, vline=32.4,
         title_y=707, ylab_x=9, cap=(219, 1018, '(e) TPeg')),
    dict(series=[aster_red, aster_green, aster_blue, aster_magenta, aster_cyan, aster_orange, aster_black],
         box=(524, 719, 900, 974), xmax=140, xstep=20, ymax=1600, ystep=200, vline=50.4,
         title_y=707, ylab_x=483, cap=(693, 1018, '(f) Asteroids Parallel')),
]

fig = plt.figure(figsize=(W / 100, H / 100), dpi=100)

for p in panels:
    l, t, r, b = p['box']
    ax = fig.add_axes([l / W, 1 - b / H, (r - l) / W, (b - t) / H])
    for k, (ys, (col, ls, mk, ms, filled)) in enumerate(zip(p['series'], line_types)):
        ys = np.asarray(ys, dtype=float)
        ax.plot(np.arange(len(ys)), ys, color=col, linestyle=ls, linewidth=0.8,
                marker=mk, markersize=ms, markeredgewidth=0.7,
                markerfacecolor=col if filled else 'none', markeredgecolor=col,
                zorder=2 + k)
    ax.axvline(p['vline'], color='#222222', linewidth=0.8, zorder=1)

    ax.set_xlim(0, p['xmax'])
    ax.set_ylim(0, p['ymax'])
    ax.set_xticks(np.arange(0, p['xmax'] + p['xstep'] / 2, p['xstep']))
    ax.set_yticks(np.arange(0, p['ymax'] + p['ystep'] / 2, p['ystep']))
    ax.yaxis.set_major_formatter(FuncFormatter(lambda v, _: '%g' % round(v, 6)))
    ax.tick_params(direction='in', top=True, right=True, length=3.5, width=0.6,
                   labelsize=5.8, pad=3)
    for lab in ax.get_xticklabels() + ax.get_yticklabels():
        lab.set_fontfamily(SANS)
    for s in ax.spines.values():
        s.set_linewidth(0.8)

    cx = (l + r) / 2
    fig.text(cx / W, 1 - p['title_y'] / H, 'Time of image computation',
             ha='center', va='center', fontsize=6.2, family=SANS)
    fig.text(cx / W, 1 - (b + 21) / H, 'Layer',
             ha='center', va='center', fontsize=6.2, family=SANS)
    fig.text(p['ylab_x'] / W, 1 - (t + b) / 2 / H, 'Time (s)', rotation=90,
             ha='center', va='center', fontsize=6.2, family=SANS)
    capx, capy, captext = p['cap']
    fig.text(capx / W, 1 - capy / H, captext, ha='center', va='center',
             fontsize=12.5, family=SERIF)

fig.savefig('out.png', dpi=100)
